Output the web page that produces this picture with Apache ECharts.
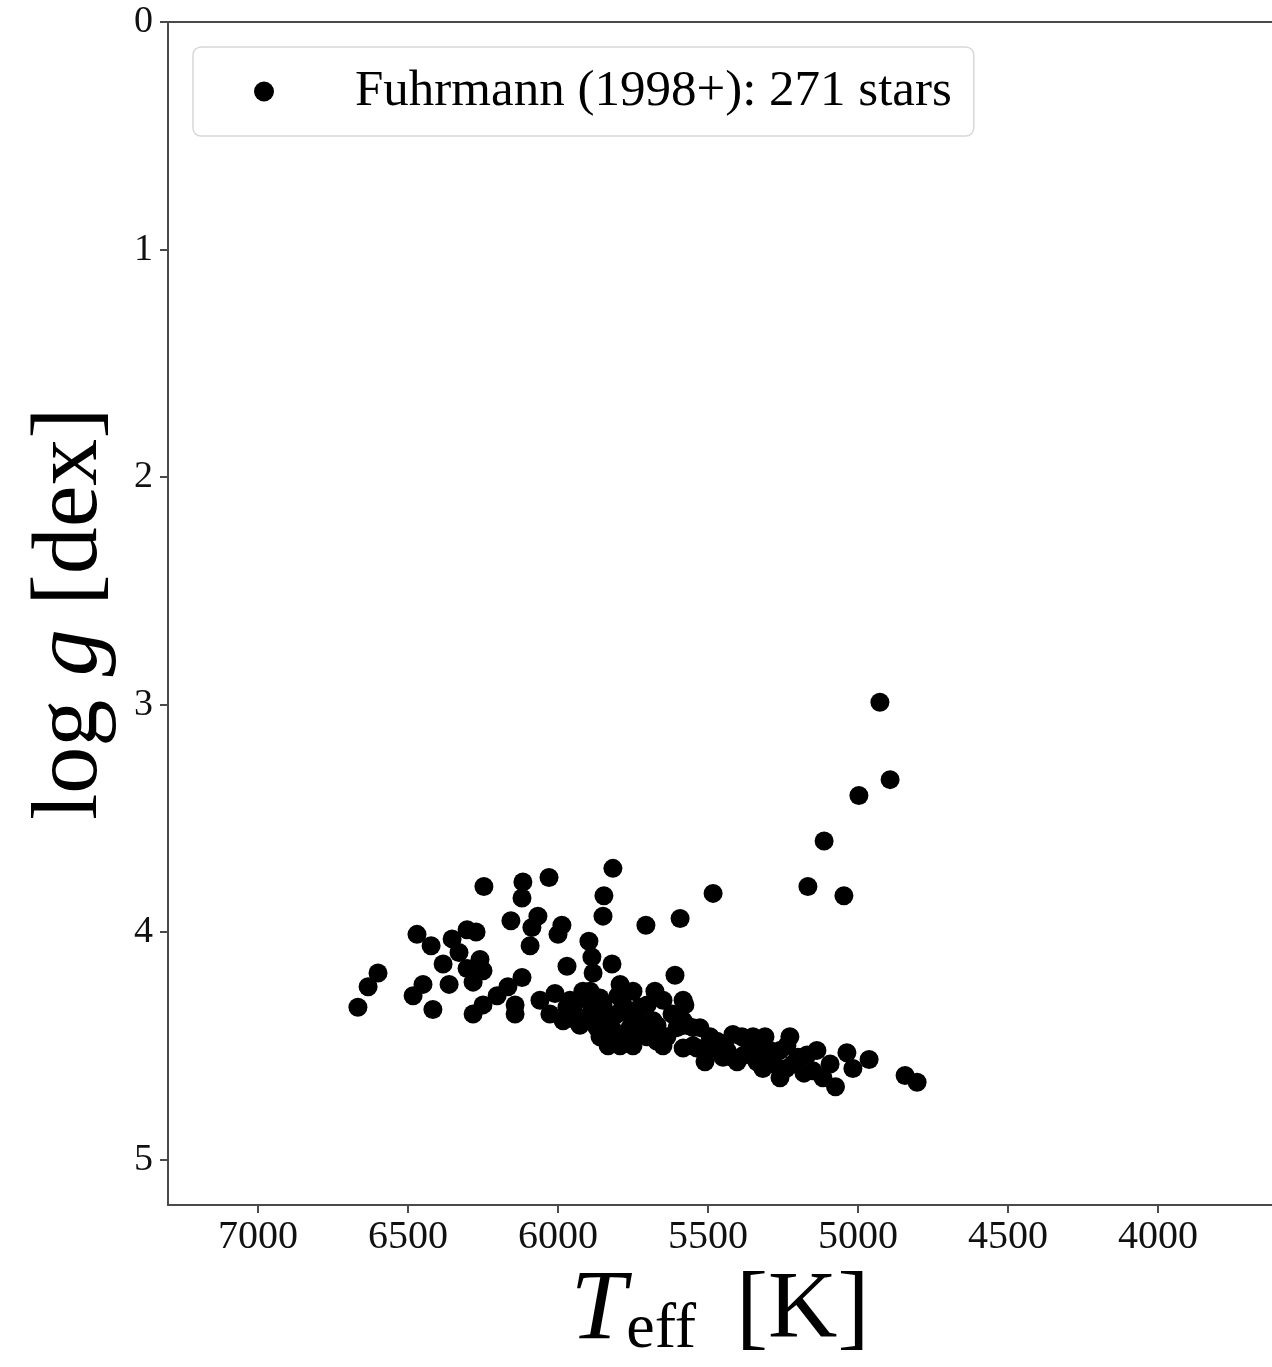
<!DOCTYPE html>
<html>
<head>
<meta charset="utf-8">
<script src="https://cdn.jsdelivr.net/npm/echarts@6/dist/echarts.min.js"></script>
<style>
html,body{margin:0;padding:0;background:#fff;}
#chart{width:1272px;height:1367px;}
</style>
</head>
<body>
<div id="chart"></div>
<script>
// Effective temperature [K]
const teff = [
 4927,4893,4997,5113,5167,5047,5483,5593,5707,5817,
 5847,5850,6030,6117,6120,6247,6157,6470,6423,6353,
 6303,6273,6383,6330,6303,6260,6250,6283,6363,6600,
 6633,6667,6450,6483,6417,6283,6250,6203,6167,6120,
 6143,6143,6087,6093,6060,6067,5987,6000,5897,5887,
 5883,5820,5970,5610,5677,5583,6010,6027,5970,5917,
 5860,5793,5750,5703,5893,5803,5937,5860,5760,5670,
 5603,5583,5783,5703,5650,5583,5833,5650,5893,5950,
 5850,5783,5727,5683,5637,5583,5550,5983,5927,5870,
 5817,5770,5717,5793,5670,5550,5493,5460,5417,5577,
 5570,5527,5537,5510,5470,5437,5403,5387,5350,5310,
 5337,5360,5293,5260,5237,5260,5317,5217,5170,5137,
 5150,5117,5075,5093,5037,5017,4963,4843,4803,5227,
 5900,5840,5760,5720,5800,5750,5680,5620,5960,5860,
 5450,5380,5300,5200,5240,5420,5500,5280,5340,5180
];
// Surface gravity log g [dex]
const logg = [
 2.99,3.33,3.40,3.60,3.80,3.84,3.83,3.94,3.97,3.72,
 3.84,3.93,3.76,3.78,3.85,3.80,3.95,4.01,4.06,4.03,
 3.99,4.00,4.14,4.09,4.16,4.12,4.17,4.22,4.23,4.18,
 4.24,4.33,4.23,4.28,4.34,4.36,4.32,4.28,4.24,4.20,
 4.32,4.36,3.98,4.06,4.30,3.93,3.97,4.01,4.04,4.11,
 4.18,4.14,4.15,4.19,4.26,4.30,4.27,4.36,4.33,4.26,
 4.29,4.23,4.26,4.32,4.36,4.36,4.39,4.42,4.42,4.41,
 4.42,4.41,4.48,4.46,4.50,4.51,4.50,4.30,4.26,4.33,
 4.32,4.32,4.33,4.39,4.46,4.39,4.42,4.39,4.41,4.42,
 4.43,4.46,4.45,4.50,4.48,4.50,4.46,4.51,4.45,4.32,
 4.41,4.42,4.51,4.57,4.48,4.52,4.57,4.46,4.46,4.46,
 4.57,4.52,4.52,4.52,4.50,4.64,4.60,4.58,4.54,4.52,
 4.61,4.64,4.68,4.58,4.53,4.60,4.56,4.63,4.66,4.46,
 4.30,4.38,4.36,4.40,4.28,4.50,4.45,4.36,4.30,4.46,
 4.55,4.54,4.56,4.55,4.60,4.55,4.52,4.58,4.50,4.62
];
const xTicks = [4000,4500,5000,5500,6000,6500,7000];
const yTicks = [0,1,2,3,4,5];
const seriesName = 'Fuhrmann (1998+): 271 stars';

const points = teff.map((t,i)=>[t, logg[i]]);
const serif = '"Liberation Serif","DejaVu Serif",serif';
const axisCol = '#4a4a4a';

const chart = echarts.init(document.getElementById('chart'), null, {renderer:'canvas'});
chart.setOption({
  animation:false,
  backgroundColor:'#fff',
  grid:{left:168, top:22, bottom:160, right:0, show:false},
  legend:{
    left:193, top:47,
    data:[seriesName],
    itemWidth:20, itemHeight:20,
    borderColor:'#d8d8d8', borderWidth:1.5, borderRadius:8,
    padding:[19,22,19,61],
    textStyle:{fontFamily:serif, fontSize:51, color:'#000', padding:[0,0,0,76]}
  },
  xAxis:[{
    type:'value', inverse:true, min:3620, max:7300,
    axisLine:{show:true, onZero:false, lineStyle:{color:axisCol, width:2}},
    axisTick:{show:true, length:8, lineStyle:{color:axisCol, width:2}, customValues:xTicks},
    axisLabel:{fontFamily:serif, fontSize:40, color:'#111', margin:12, customValues:xTicks,
      formatter:(v)=>String(v)},
    splitLine:{show:false},
    name:'{t|T}{s|eff}{k|[K]}', nameLocation:'middle', nameGap:49,
    nameTextStyle:{
      rich:{
        t:{fontFamily:serif, fontStyle:'italic', fontSize:100, lineHeight:100, color:'#000', verticalAlign:'middle'},
        s:{fontFamily:serif, fontSize:64, lineHeight:46, color:'#000', verticalAlign:'bottom'},
        k:{fontFamily:serif, fontSize:96, lineHeight:100, color:'#000', verticalAlign:'middle', padding:[0,0,0,40]}
      }
    }
  },{
    type:'value', position:'top', inverse:true, min:3620, max:7300,
    axisLine:{show:true, onZero:false, lineStyle:{color:axisCol, width:2}},
    axisTick:{show:false}, axisLabel:{show:false}, splitLine:{show:false}
  }],
  yAxis:{
    type:'value', inverse:true, min:0, max:5.2,
    axisLine:{show:true, onZero:false, lineStyle:{color:axisCol, width:2}},
    axisTick:{show:true, length:8, lineStyle:{color:axisCol, width:2}, customValues:yTicks},
    axisLabel:{fontFamily:serif, fontSize:38, color:'#111', margin:15, customValues:yTicks},
    splitLine:{show:false},
    name:'{a|log }{g|g}{a| [dex]}', nameLocation:'middle', nameGap:50, nameRotate:90,
    nameTextStyle:{
      rich:{
        a:{fontFamily:serif, fontSize:94, color:'#000'},
        g:{fontFamily:serif, fontStyle:'italic', fontSize:94, color:'#000'}
      }
    }
  },
  series:[{
    name:seriesName, type:'scatter', data:points, xAxisIndex:0,
    symbol:'circle', symbolSize:19,
    itemStyle:{color:'#000', opacity:1}
  }]
});
</script>
</body>
</html>
